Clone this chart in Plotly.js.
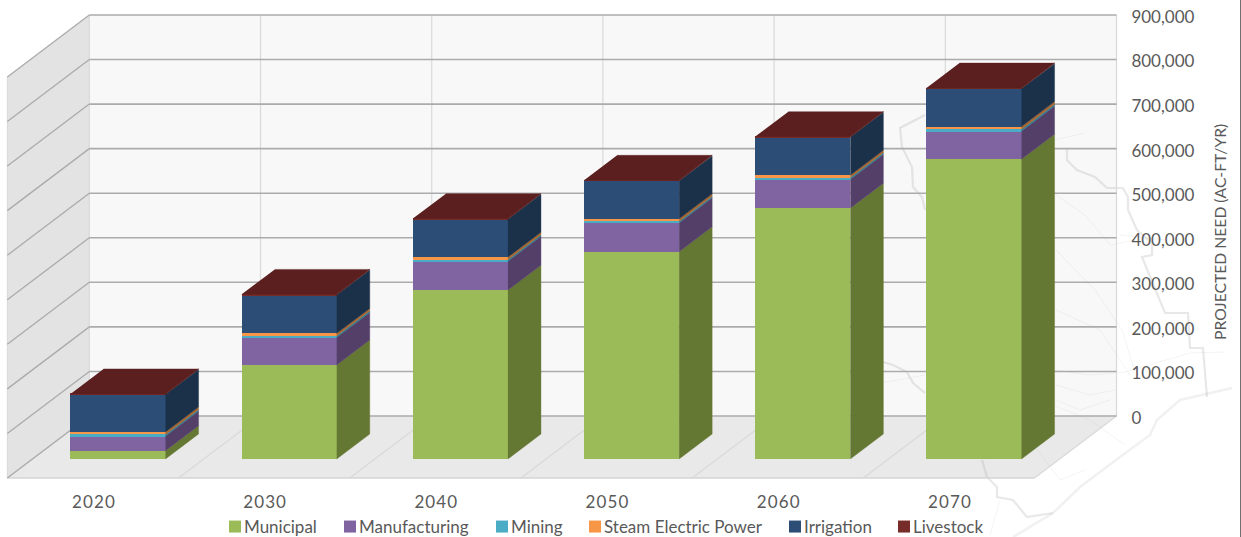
<!DOCTYPE html>
<html>
<head>
<meta charset="utf-8">
<script src="https://cdn.plot.ly/plotly-3.0.1.min.js"></script>
<style>
html,body{margin:0;padding:0;background:#fff;overflow:hidden}
#chart{width:1241px;height:537px}
.xtick text{letter-spacing:1.1px}
</style>
</head>
<body>
<div id="chart"></div>
<script>
// ---- data ----
const years = [2020, 2030, 2040, 2050, 2060, 2070];
const seriesNames = ['Municipal','Manufacturing','Mining','Steam Electric Power','Irrigation','Livestock'];
const municipal     = [18600, 211000, 379000, 465000, 563000, 673000];
const manufacturing = [33000,  62000,  65000,  65000,  65000,  63000];
const mining        = [ 3500,   3500,   3500,   3500,   3500,   4000];
const steam         = [ 5500,   5500,   5500,   5500,   5500,   6000];
const irrigation    = [84000,  86000,  85000,  85000,  85000,  85000];
const livestock     = [ 1500,   1500,   1500,   1500,   1500,   1500];
const valueTicks = [0,100000,200000,300000,400000,500000,600000,700000,800000,900000];
const yTitle = 'PROJECTED NEED (AC-FT/YR)';

// ---- style ----
const frontColors = ['#9BBB59','#8064A2','#4BACC6','#F79646','#2C4D75','#772C2A'];
const sideColors  = ['#647733','#543F69','#2F7C90','#A8652E','#1B3049','#4F1D1C'];
const topColor = '#5A1F1E';
const allSeries = [municipal, manufacturing, mining, steam, irrigation, livestock];

// ---- oblique projection of the 3-D box, expressed in axis units ----
const depthX = 4.79, depthV = 139100;      // shift from floor front (d=0) to back wall (d=1)
const dFront = 0.306, dBack = 0.709;       // depth of bar front & back faces
const halfW = 2.775;                       // half bar width in years
const px = (x, v, d) => [x + depthX * (d - dFront), v + depthV * (d - 1)];

const pxPerYear = 17.12, pxPerValue = 44.56 / 100000;
const xRange = [2020 - 118 / pxPerYear, 2020 + (1241 - 118) / pxPerYear];
const yRange = [(416 - 537) / pxPerValue, 416 / pxPerValue];

// ---- stacks ----
const bottoms = [], tops = [];
allSeries.forEach((s, i) => {
  bottoms.push(s.map((_, j) => i === 0 ? 0 : tops[i - 1][j]));
  tops.push(s.map((val, j) => bottoms[i][j] + val));
});

const traces = [];
// front faces: real bars
allSeries.forEach((s, i) => {
  traces.push({
    type: 'bar', name: seriesNames[i], x: years, y: s,
    base: bottoms[i].map(b => b + depthV * (dFront - 1)),
    width: halfW * 2,
    marker: {color: frontColors[i], line: {width: 0}},
    hovertemplate: '%{x}: %{y:,}<extra>' + seriesNames[i] + '</extra>'
  });
});
// side faces
allSeries.forEach((s, i) => {
  const xs = [], ys = [];
  years.forEach((yr, j) => {
    const c = [px(yr + halfW, bottoms[i][j], dFront), px(yr + halfW, bottoms[i][j], dBack),
               px(yr + halfW, tops[i][j], dBack), px(yr + halfW, tops[i][j], dFront)];
    c.forEach(p => { xs.push(p[0]); ys.push(p[1]); });
    xs.push(null); ys.push(null);
  });
  traces.push({type:'scatter', mode:'lines', x:xs, y:ys, fill:'toself', fillcolor:sideColors[i],
    line:{width:0.4,color:sideColors[i]}, showlegend:false, hoverinfo:'skip'});
});
// top faces
{
  const xs = [], ys = [];
  years.forEach((yr, j) => {
    const t = tops[5][j];
    [px(yr - halfW, t, dFront), px(yr + halfW, t, dFront), px(yr + halfW, t, dBack), px(yr - halfW, t, dBack)]
      .forEach(p => { xs.push(p[0]); ys.push(p[1]); });
    xs.push(null); ys.push(null);
  });
  traces.push({type:'scatter', mode:'lines', x:xs, y:ys, fill:'toself', fillcolor:topColor,
    line:{width:0.4,color:topColor}, showlegend:false, hoverinfo:'skip'});
}

// ---- walls, floor, gridlines as shapes under the traces ----
const shapes = [];
const poly = (pts, fill) => shapes.push({type:'path', xref:'x', yref:'y', layer:'below',
  path:'M' + pts.map(p => p[0] + ',' + p[1]).join('L') + 'Z', fillcolor:fill, line:{width:0}});
const seg = (a, b, color, w) => shapes.push({type:'line', xref:'x', yref:'y', layer:'below',
  x0:a[0], y0:a[1], x1:b[0], y1:b[1], line:{color:color, width:w}});

const xL = years[0] - 5, xR = years[5] + 5, vMax = valueTicks[valueTicks.length - 1];
poly([px(xL,0,1), px(xR,0,1), px(xR,vMax,1), px(xL,vMax,1)], '#F8F8F8');
poly([px(xL,0,0), px(xL,0,1), px(xL,vMax,1), px(xL,vMax,0)], '#E3E3E3');
poly([px(xL,0,0), px(xR,0,0), px(xR,0,1), px(xL,0,1)], '#E9E9E9');

// faint state-map backdrop: a decorative picture behind the chart, traced in page pixels
const mapBorders = [
  [[925,115],[900,128],[902,147],[912,167],[913,187],[922,197],[925,210]],
  [[1067,148],[1067,160],[1077,170],[1095,177],[1107,188],[1123,188],[1128,197],[1128,210],[1137,230],[1152,243],[1152,255],[1142,257],[1165,313],[1188,313],[1190,348],[1203,348],[1207,397]],
  [[860,352],[883,362],[893,365],[907,372],[913,383],[925,393]],
  [[982,460],[987,477],[997,487],[997,497],[1013,500],[1027,517],[1053,513]]
];
const mapCoast = [
  [[1232,388],[1180,400],[1157,420],[1150,435],[1120,457],[1080,487],[1053,513],[1013,537]]
];
const mapThin = [
  [[1054,370],[1090,375],[1125,372],[1190,353],[1225,352]],
  [[1040,400],[1090,420],[1125,445]],
  [[1030,440],[1060,480],[1085,470]],
  [[1054,140],[1085,133]],
  [[1056,195],[1085,215],[1110,245],[1135,240]],
  [[1056,250],[1095,290],[1122,330],[1135,372]],
  [[1056,310],[1100,330],[1130,375]],
  [[1120,235],[1165,240]],
  [[883,327],[927,327]],
  [[925,375],[870,385]],
  [[1000,500],[990,535]],
  [[1056,385],[1090,395],[1115,390]],
  [[1056,400],[1080,410],[1110,400]]
];
const mapPath = l => 'M' + l.map(p => (xRange[0] + p[0]/pxPerYear) + ',' + ((416 - p[1])/pxPerValue)).join('L');
const addMap = (lines, color, w) => lines.forEach(l => shapes.push({type:'path', xref:'x', yref:'y', layer:'below',
  path:mapPath(l), line:{color:color, width:w}, fillcolor:'rgba(0,0,0,0)'}));
addMap(mapThin, 'rgba(170,170,170,0.13)', 1);
addMap(mapBorders, 'rgba(170,170,170,0.27)', 2.2);
addMap(mapCoast, 'rgba(170,170,170,0.16)', 2.6);

for (let k = 0; k <= 6; k++) {
  const xk = xL + k * 10;
  seg(px(xk,0,1), px(xk,vMax,1), '#D9D9D9', 1.2);
  seg(px(xk,0,0), px(xk,0,1), '#D9D9D9', 1.2);
}
seg(px(xL,0,0), px(xL,vMax,0), '#D9D9D9', 1);
seg(px(xL,0,0), px(xR,0,0), '#D4D4D4', 1.6);
valueTicks.forEach(v => {
  seg(px(xL,v,1), px(xR,v,1), '#ABABAB', 1.6);
  seg(px(xL,v,0), px(xL,v,1), '#ABABAB', 1.3);
});
shapes.push({type:'line', xref:'paper', yref:'paper', layer:'above', x0:1240.5/1241, x1:1240.5/1241, y0:0, y1:1,
  line:{color:'#707070', width:1}});

const textColor = '#595959', fontFam = 'Lato, "Open Sans", sans-serif';
const layout = {
  width:1241, height:537,
  margin:{l:0,r:0,t:0,b:0,pad:0,autoexpand:false},
  paper_bgcolor:'#FFFFFF', plot_bgcolor:'rgba(0,0,0,0)',
  barmode:'overlay', bargap:0,
  font:{family:fontFam, color:textColor, size:16},
  xaxis:{range:xRange, anchor:'free', position:47/537, showgrid:false, zeroline:false, showline:false,
    tickmode:'array', tickvals:years.map(y => y + 0.06 - depthX * dFront), ticktext:years.map(String),
    ticks:'', tickfont:{family:fontFam, size:17, color:textColor}, fixedrange:true},
  yaxis:{range:yRange, anchor:'free', position:1118/1241, side:'right', showgrid:false, zeroline:false, showline:false,
    tickmode:'array', tickvals:valueTicks, tickformat:',d',
    ticks:'outside', ticklen:9, tickcolor:'rgba(0,0,0,0)', tickfont:{family:fontFam, size:17, color:textColor}, fixedrange:true},
  annotations:[{text:yTitle, xref:'paper', yref:'paper', x:1220/1241, y:1-232/537, showarrow:false, textangle:-90,
    font:{family:fontFam, size:15.7, color:textColor}, xanchor:'center', yanchor:'middle'}],
  legend:{orientation:'h', x:220/1241, xanchor:'left', y:10/537, yanchor:'middle', font:{family:fontFam,size:17,color:textColor},
    bgcolor:'rgba(0,0,0,0)', itemclick:false, itemdoubleclick:false, traceorder:'normal'},
  shapes:shapes
};

Plotly.newPlot('chart', traces, layout, {displayModeBar:false, staticPlot:false}).then(gd => {
  // tighten the legend rhythm: swatch left edges as on the page
  const swatchLeft = [229, 344, 496, 589, 789, 898], legendAbs = 221;
  gd.querySelectorAll('.legend .traces').forEach((g, i) => {
    const m = /translate\(([-\d.]+)[ ,]*([-\d.]+)?\)/.exec(g.getAttribute('transform') || '');
    const yy = m && m[2] ? m[2] : 0;
    g.setAttribute('transform', 'translate(' + (swatchLeft[i] + 6 - 19 - legendAbs) + ',' + yy + ')');
    const t = g.querySelector('.legendtext');
    if (t) t.setAttribute('x', 29);
  });
  // tick labels sit slightly below their gridlines on the page
  gd.querySelectorAll('.ytick text').forEach(t => {
    t.setAttribute('y', parseFloat(t.getAttribute('y') || 0) + 2);
  });
});
</script>
</body>
</html>
